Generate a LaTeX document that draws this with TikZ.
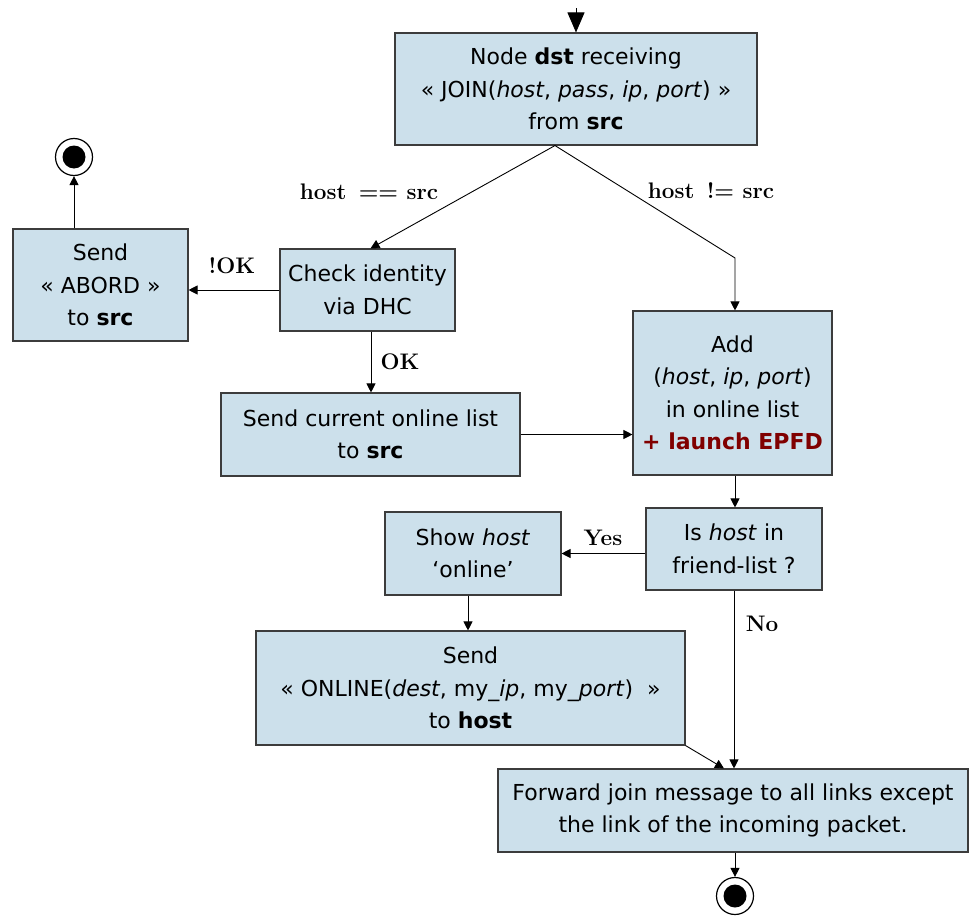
\documentclass[tikz,border=0pt]{standalone}
\usepackage{fontspec}
\setsansfont{DejaVu Sans}
\usetikzlibrary{arrows.meta,calc}
\definecolor{boxfill}{RGB}{204,224,235}
\definecolor{boxline}{RGB}{60,60,60}
\definecolor{epfd}{RGB}{128,0,0}
\tikzset{
  x=1pt, y=-1pt,
  stepbox/.style={draw=boxline, line width=1.1pt, fill=boxfill, rectangle,
    inner sep=0pt, align=center, font=\sffamily\fontsize{22}{32.5}\selectfont},
  arr/.style={draw=black, line width=0.9pt, -{Triangle[length=9pt,width=9pt]}},
  cond/.style={font=\bfseries\fontsize{22.5}{26}\selectfont, inner sep=0pt},
  finalring/.style={circle, draw=black, line width=1.2pt, fill=white,
    minimum size=37pt, inner sep=0pt},
  finaldot/.style={circle, fill=black, minimum size=23pt, inner sep=0pt},
}
\begin{document}
\begin{tikzpicture}
\useasboundingbox (0,0) rectangle (970,918);

% activity boxes
\node[stepbox, minimum width=362pt, minimum height=112pt] (recv) at (576,89)
  {Node \textbf{dst} receiving\\
   « JOIN(\textit{host}, \textit{pass}, \textit{ip}, \textit{port}) »\\
   from \textbf{src}};
\node[stepbox, minimum width=175pt, minimum height=112pt] (abord) at (100.5,285)
  {Send\\ « ABORD »\\ to \textbf{src}};
\node[stepbox, minimum width=175pt, minimum height=82pt] (check) at (367.5,290)
  {Check identity\\ via DHC};
\node[stepbox, minimum width=299pt, minimum height=83pt] (sendlist) at (370.5,434.5)
  {Send current online list\\ to \textbf{src}};
\node[stepbox, minimum width=199pt, minimum height=164pt] (add) at (732.5,393)
  {Add\\ (\textit{host}, \textit{ip}, \textit{port})\\ in online list\\
   \textcolor{epfd}{\textbf{+ launch EPFD}}};
\node[stepbox, minimum width=176pt, minimum height=82pt] (isfriend) at (734,549)
  {Is \textit{host} in\\ friend-list ?};
\node[stepbox, minimum width=176pt, minimum height=83pt] (show) at (473,553.5)
  {Show \textit{host}\\ ‘online’};
\node[stepbox, minimum width=429pt, minimum height=114pt] (online) at (470.5,688)
  {Send\\ « ONLINE(\textit{dest}, my\textit{\_ip}, my\textit{\_port})\ \ »\\ to \textbf{host}};
\node[stepbox, minimum width=470pt, minimum height=83pt] (fwd) at (733,810.5)
  {Forward join message to all links except\\ the link of the incoming packet.};

% final states
\node[finalring] (endA) at (74,157) {};
\node[finaldot] at (endA) {};
\node[finalring] (endB) at (735,896) {};
\node[finaldot] at (endB) {};

% entry
\coordinate (entry) at (576,8);
\draw[line width=0.9pt, -{Triangle[length=20pt,width=17pt]}] (entry) -- (recv.north);

% branches from the receiving node
\coordinate (fork) at ($(recv.south)+(-21,0)$);
\coordinate (bend) at (735,258);
\draw[arr] (fork) -- ($(check.north)+(3,0)$);
\draw[arr] (fork) -- (bend) -- (bend |- add.north);
\node[cond] at (369,192) {host\hspace{0.55em}== src};
\node[cond] at (711,191) {host\hspace{0.55em}!= src};

% identity check
\draw[arr] (check.west) -- (check.west -| abord.east);
\node[cond] at (232,266) {!OK};
\draw[arr] (endA |- abord.north) -- (endA.south);
\draw[arr] ($(check.south)+(3.5,0)$) -- ($(check.south |- sendlist.north)+(3.5,0)$);
\node[cond] at (400,362) {OK};
\draw[arr] (sendlist.east) -- (sendlist.east -| add.west);

% friend list
\draw[arr] ($(add.south)+(2.5,0)$) -- ($(add.south |- isfriend.north)+(2.5,0)$);
\draw[arr] (show.east -| isfriend.west) -- (show.east);
\node[cond] at (603,538) {Yes};
\draw[arr] ($(show.south)+(-5,0)$) -- ($(show.south |- online.north)+(-5,0)$);
\draw[arr] (isfriend.south) -- (isfriend.south |- fwd.north);
\node[cond] at (762,624) {No};
\draw[arr] (online.south east) -- ($(fwd.north)+(-9,0)$);

% forward and finish
\draw[arr] ($(fwd.south)+(2,0)$) -- ($(endB.north)$);
\end{tikzpicture}
\end{document}
